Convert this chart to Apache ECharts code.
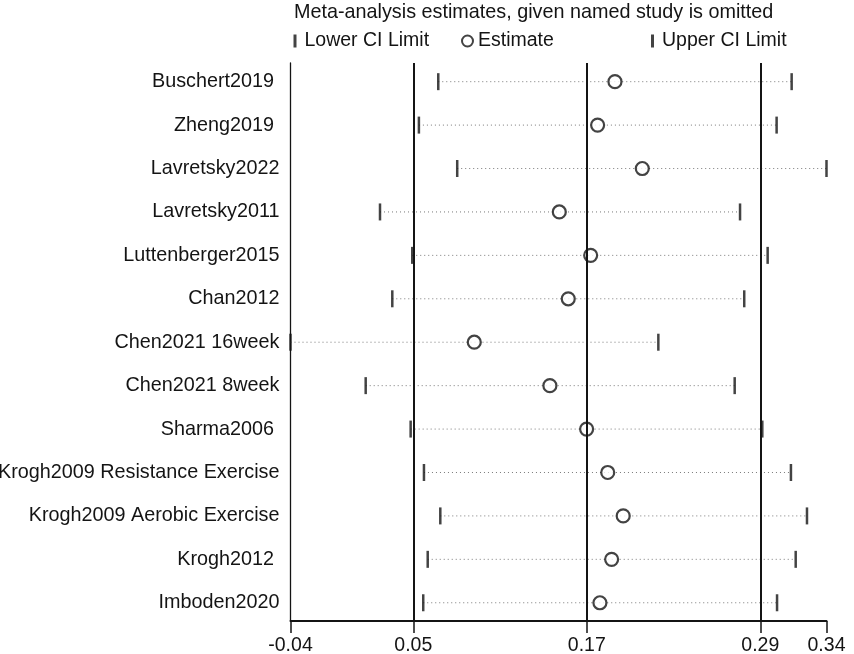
<!DOCTYPE html>
<html>
<head>
<meta charset="utf-8">
<script src="https://cdn.jsdelivr.net/npm/echarts@6/dist/echarts.min.js"></script>
<style>
    html, body { margin: 0; padding: 0; background: #fff; }
    #chart { width: 854px; height: 654px; }
</style>
</head>
<body>
<div id="chart"></div>
<script>
// studies, top to bottom (trailing spaces are in the original labels)
const studies = [
    'Buschert2019 ', 'Zheng2019 ', 'Lavretsky2022', 'Lavretsky2011', 'Luttenberger2015',
    'Chan2012', 'Chen2021 16week', 'Chen2021 8week', 'Sharma2006 ',
    'Krogh2009 Resistance Exercise', 'Krogh2009 Aerobic Exercise', 'Krogh2012 ', 'Imboden2020'
]
const lowerCI = [0.0670, 0.0536, 0.0801, 0.0267, 0.0490, 0.0352, -0.0352, 0.0168, 0.0479, 0.0571, 0.0684, 0.0597, 0.0566]
const estimate = [0.1892, 0.1772, 0.2081, 0.1507, 0.1724, 0.1569, 0.0919, 0.1442, 0.1696, 0.1842, 0.1949, 0.1869, 0.1788]
const upperCI = [0.3114, 0.3010, 0.3355, 0.2757, 0.2948, 0.2786, 0.2192, 0.2720, 0.2911, 0.3109, 0.3220, 0.3142, 0.3013]

// combined estimate with its CI (the three vertical lines)
const overall = [0.0497, 0.1697, 0.2897]
// x ticks: smallest lower CI, overall lines, largest upper CI
const xTicks = [-0.0352, 0.0497, 0.1697, 0.2897, 0.3355]

const ink = '#141414'
const font = 'Liberation Sans, Arial, sans-serif'

const chart = echarts.init(document.getElementById('chart'))

const option = {
    animation: false,
    backgroundColor: '#fff',
    title: {
        text: 'Meta-analysis estimates, given named study is omitted',
        left: 294,
        top: 3,
        padding: 0,
        textStyle: { fontFamily: font, fontSize: 19.8, fontWeight: 'normal', color: ink }
    },
    legend: [
        {
            data: ['Lower CI Limit'], left: 293.5, top: 31, padding: 0,
            itemWidth: 3, itemHeight: 13,
            textStyle: { fontFamily: font, fontSize: 19.5, color: ink, padding: [0, 0, 0, 3] }
        },
        {
            data: [{ name: 'Estimate', icon: 'circle' }], left: 461, top: 31, padding: 0,
            itemWidth: 11, itemHeight: 11,
            textStyle: { fontFamily: font, fontSize: 19.5, color: ink }
        },
        {
            data: ['Upper CI Limit'], left: 651, top: 31, padding: 0,
            itemWidth: 3, itemHeight: 13,
            textStyle: { fontFamily: font, fontSize: 19.5, color: ink, padding: [0, 0, 0, 3] }
        }
    ],
    grid: { left: 290.5, right: 27.5, top: 63, bottom: 33, outerBoundsMode: 'none' },
    xAxis: {
        type: 'value',
        min: xTicks[0],
        max: xTicks[xTicks.length - 1],
        splitLine: { show: false },
        axisLine: { onZero: false, lineStyle: { color: ink, width: 2 } },
        axisTick: { customValues: xTicks, length: 12, lineStyle: { color: ink, width: 1.5 } },
        axisLabel: {
            customValues: xTicks,
            margin: 15,
            fontFamily: font, fontSize: 19.5, color: ink,
            formatter: v => v.toFixed(2)
        }
    },
    yAxis: {
        type: 'value',
        inverse: true,
        min: -0.43,
        max: 12.42,
        splitLine: { show: false },
        axisLine: { show: true, onZero: false, lineStyle: { color: ink, width: 1.3 } },
        axisTick: { show: false },
        axisLabel: {
            customValues: studies.map((s, i) => i),
            margin: 11,
            fontFamily: font, fontSize: 19.8, color: ink,
            formatter: v => studies[v]
        }
    },
    series: [
        {
            // dotted span from lower to upper limit
            type: 'custom',
            name: 'span',
            silent: true,
            data: studies.map((s, i) => [lowerCI[i], upperCI[i], i]),
            encode: { x: [0, 1], y: 2 },
            renderItem(params, api) {
                const a = api.coord([api.value(0), api.value(2)])
                const b = api.coord([api.value(1), api.value(2)])
                return {
                    type: 'line',
                    shape: { x1: a[0], y1: a[1], x2: b[0], y2: b[1] },
                    style: { stroke: '#7a7a7a', lineWidth: 1, lineDash: [1, 3] }
                }
            },
            markLine: {
                silent: true,
                symbol: 'none',
                label: { show: false },
                lineStyle: { type: 'solid', color: ink, width: 2 },
                data: overall.map(v => ({ xAxis: v }))
            }
        },
        {
            type: 'scatter',
            name: 'Lower CI Limit',
            symbol: 'rect',
            symbolSize: [2.5, 17],
            itemStyle: { color: ink },
            data: lowerCI.map((v, i) => [v, i]),
            z: 3
        },
        {
            type: 'scatter',
            name: 'Estimate',
            symbol: 'circle',
            symbolSize: 13,
            itemStyle: { color: '#fff', borderColor: ink, borderWidth: 2.2 },
            data: estimate.map((v, i) => [v, i]),
            z: 4
        },
        {
            type: 'scatter',
            name: 'Upper CI Limit',
            symbol: 'rect',
            symbolSize: [2.5, 17],
            itemStyle: { color: ink },
            data: upperCI.map((v, i) => [v, i]),
            z: 3
        }
    ]
}

chart.setOption(option)
</script>
</body>
</html>
